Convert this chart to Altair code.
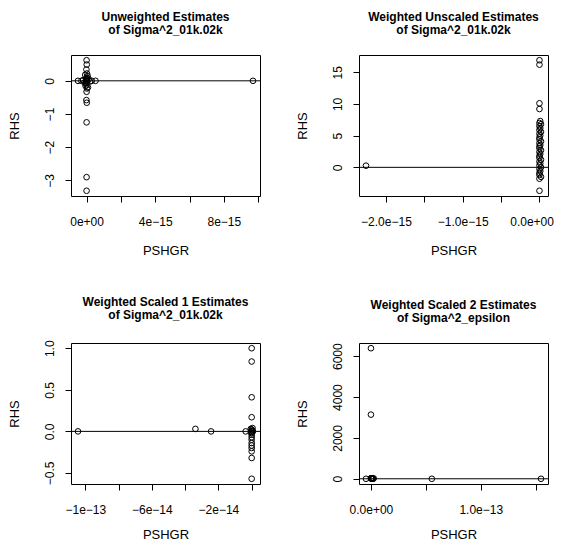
import json
import altair as alt
import pandas as pd

FONT = "Liberation Sans"

# ---------------- Panel 1: Unweighted ----------------
p1_title = ["Unweighted Estimates", " of Sigma^2_01k.02k"]
p1_x = [-0.50e-15, 0.52e-15, 9.70e-15,
        0.0, 0.01e-15, -0.01e-15, 0.02e-15, 0.0, -0.02e-15, 0.01e-15, 0.0, 0.03e-15,
        -0.03e-15, 0.0, 0.02e-15, 0.0, -0.01e-15, 0.01e-15, 0.0, 0.0,
        -0.30e-15, -0.20e-15, -0.12e-15, 0.12e-15, 0.20e-15, 0.30e-15, 0.06e-15,
        -0.06e-15, 0.04e-15, -0.04e-15, 0.08e-15, -0.08e-15, 0.0]
p1_y = [0.0, 0.0, 0.0,
        0.62, 0.49, 0.34, 0.22, 0.10, 0.05, 0.02, 0.0, -0.02,
        -0.05, -0.13, -0.23, -0.33, -0.58, -0.66, -1.25, -2.90,
        0.0, 0.02, -0.05, 0.05, -0.02, 0.0, 0.15,
        -0.15, 0.08, -0.08, -0.20, 0.18, -3.31]
p1_xticks = [0.0, 2e-15, 4e-15, 6e-15, 8e-15, 1e-14]
p1_xlabels = ["0e+00", "", "4e\u221215", "", "8e\u221215", ""]
p1_yticks = [-3, -2, -1, 0]
p1_ylabels = ["\u22123", "\u22122", "\u22121", "0"]

# ---------------- Panel 2: Weighted Unscaled ----------------
p2_title = ["Weighted Unscaled Estimates", "of Sigma^2_01k.02k"]
p2_col = [16.9, 16.2, 10.1, 9.2, 7.3, 7.0, 6.8, 6.5, 6.2, 5.9, 5.6, 5.3, 5.0,
          4.7, 4.4, 4.1, 3.8, 3.5, 3.3, 3.0, 2.7, 2.4, 2.1, 1.8, 1.5, 1.2,
          0.9, 0.6, 0.3, 0.0, -0.3, -0.6, -0.9, -1.2, -1.5, -1.8, -3.7]
p2_colx = [0.0, 0.0, 0.0, 0.0, 0.01e-15, 0.0, 0.02e-15, 0.0, 0.01e-15, 0.0,
           0.02e-15, 0.0, 0.01e-15, 0.0, 0.0, 0.02e-15, 0.0, 0.01e-15, 0.0,
           0.0, 0.02e-15, 0.0, 0.01e-15, 0.0, 0.0, 0.02e-15, 0.0, 0.01e-15,
           0.0, 0.02e-15, 0.0, 0.01e-15, 0.0, 0.0, 0.02e-15, 0.0, 0.0]
p2_x = [-2.26e-15] + p2_colx
p2_y = [0.26] + p2_col
p2_xticks = [-2.0e-15, -1.5e-15, -1.0e-15, -0.5e-15, 0.0]
p2_xlabels = ["\u22122.0e\u221215", "", "\u22121.0e\u221215", "", "0.0e+00"]
p2_yticks = [0, 5, 10, 15]
p2_ylabels = ["0", "5", "10", "15"]

# ---------------- Panel 3: Weighted Scaled 1 ----------------
p3_title = ["Weighted Scaled 1 Estimates", "of Sigma^2_01k.02k"]
p3_x = [-1.044e-13, -3.38e-14, -2.44e-14, -0.36e-14,
        0.0, 0.0, 0.0, 0.0, 0.05e-14, 0.08e-14, -0.05e-14, 0.0, 0.03e-14,
        -0.03e-14, 0.0, 0.0, 0.0, 0.0, 0.0, 0.0, 0.0, 0.0, 0.0, 0.0, 0.0]
p3_y = [0.0, 0.03, 0.0, 0.0,
        1.0, 0.84, 0.41, 0.17, 0.04, 0.0, 0.03, 0.02, 0.01,
        -0.01, 0.0, -0.02, -0.04, -0.07, -0.10, -0.14, -0.17, -0.20, -0.24,
        -0.32, -0.57]
p3_xticks = [-1e-13, -8e-14, -6e-14, -4e-14, -2e-14, 0.0]
p3_xlabels = ["\u22121e\u221213", "", "\u22126e\u221214", "", "\u22122e\u221214", ""]
p3_yticks = [-0.5, 0.0, 0.5, 1.0]
p3_ylabels = ["\u22120.5", "0.0", "0.5", "1.0"]

# ---------------- Panel 4: Weighted Scaled 2 ----------------
p4_title = ["Weighted Scaled 2 Estimates", "of Sigma^2_epsilon"]
p4_x = [-0.045e-13, 0.554e-13, 1.548e-13, 0.0, 0.0,
        0.0, 0.01e-13, 0.02e-13, 0.005e-13, 0.015e-13, 0.025e-13, 0.0, 0.01e-13]
p4_y = [0.0, 0.0, 0.0, 6390.0, 3140.0,
        10.0, 25.0, 5.0, 15.0, 0.0, 20.0, 30.0, 8.0]
p4_xticks = [0.0, 0.5e-13, 1.0e-13, 1.5e-13]
p4_xlabels = ["0.0e+00", "", "1.0e\u221213", ""]
p4_yticks = [0, 1000, 2000, 3000, 4000, 5000, 6000]
p4_ylabels = ["0", "", "2000", "", "4000", "", "6000"]


def r_domain(vals):
    lo, hi = min(vals), max(vals)
    pad = 0.04 * (hi - lo)
    return [lo - pad, hi + pad]


def label_expr(ticks, labels):
    return f"{json.dumps(labels)}[indexof({json.dumps(ticks)}, datum.value)]"


def panel(title, xs, ys, xt, xl, yt, yl, xtitle_pad, flush=False):
    df = pd.DataFrame({"PSHGR": xs, "RHS": ys})
    common = dict(
        labelFont=FONT, labelFontSize=12, labelColor="black",
        titleFont=FONT, titleFontSize=13, titleFontWeight="normal", titleColor="black",
        tickColor="black", tickSize=6, tickWidth=1, domain=False, grid=False,
        labelOverlap=False,
    )
    if flush:
        xflush = dict(labelFlush=10, labelFlushOffset=14)
    else:
        xflush = dict(labelFlush=False)
    pts = alt.Chart(df).mark_point(
        shape="circle", filled=False, color="black", size=32, strokeWidth=1, opacity=1
    ).encode(
        x=alt.X("PSHGR:Q",
                scale=alt.Scale(domain=r_domain(xs), nice=False, zero=False),
                axis=alt.Axis(values=xt, labelExpr=label_expr(xt, xl), title="PSHGR",
                              labelPadding=14, titlePadding=xtitle_pad,
                              **xflush, **common)),
        y=alt.Y("RHS:Q",
                scale=alt.Scale(domain=r_domain(ys), nice=False, zero=False),
                axis=alt.Axis(values=yt, labelExpr=label_expr(yt, yl), title="RHS",
                              labelAngle=270, labelAlign="center", labelBaseline="bottom",
                              labelPadding=9, titlePadding=22, labelFlush=False,
                              **common)),
    )
    zero = alt.Chart(pd.DataFrame({"RHS": [0.0]})).mark_rule(
        color="black", strokeWidth=1
    ).encode(y="RHS:Q")
    return alt.layer(pts, zero).properties(
        width=189, height=141,
        title=alt.TitleParams(text=title, font=FONT, fontSize=12, fontWeight="bold",
                              color="black", anchor="middle", offset=18, lineHeight=13),
    )


c1 = panel(p1_title, p1_x, p1_y, p1_xticks, p1_xlabels, p1_yticks, p1_ylabels, 17)
c2 = panel(p2_title, p2_x, p2_y, p2_xticks, p2_xlabels, p2_yticks, p2_ylabels, 17,
           flush=True)
c3 = panel(p3_title, p3_x, p3_y, p3_xticks, p3_xlabels, p3_yticks, p3_ylabels, 13)
c4 = panel(p4_title, p4_x, p4_y, p4_xticks, p4_xlabels, p4_yticks, p4_ylabels, 13)

chart = alt.concat(
    c1, c2, c3, c4, columns=2, spacing={"row": 147, "column": 99}, bounds="flush"
).configure_view(
    stroke="black", strokeWidth=1
).properties(
    autosize=alt.AutoSizeParams(type="none"),
    padding={"left": 63, "top": 47, "right": 485, "bottom": 487},
    background="white",
)

chart.save("out.html", embed_options={"renderer": "svg", "actions": False})
